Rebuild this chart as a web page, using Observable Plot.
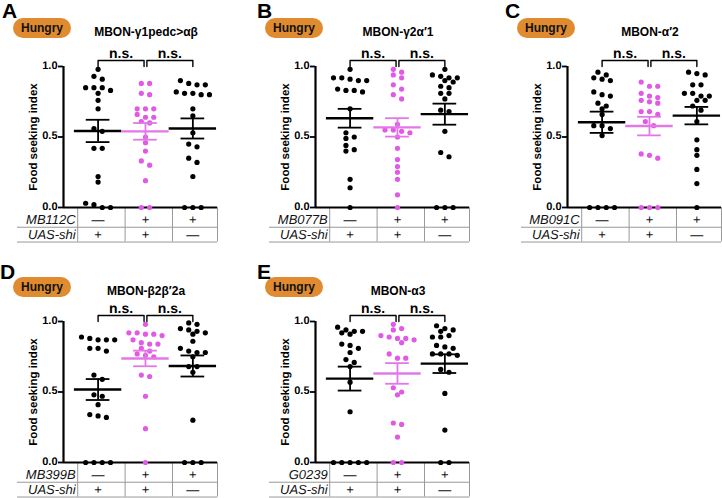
<!DOCTYPE html>
<html><head><meta charset="utf-8">
<script src="https://cdn.jsdelivr.net/npm/d3@7"></script>
<script src="https://cdn.jsdelivr.net/npm/@observablehq/plot@0.6"></script>
<style>
body{margin:0;background:#fff;}
#root{position:relative;width:722px;height:498px;overflow:hidden;font-family:"Liberation Sans",Arial,Helvetica,sans-serif;color:#000;}
.panel{position:absolute;width:252px;height:248px;}
.panel svg{position:absolute;left:0;top:0;text-rendering:geometricPrecision;}
.letter{position:absolute;font-weight:bold;font-size:21px;line-height:1;}
.pill{position:absolute;left:13px;width:58px;height:20px;border-radius:10px;background:#e08b30;font-weight:bold;font-size:12px;line-height:20px;text-align:center;color:#111;}
.title{position:absolute;left:146px;transform:translateX(-50%);font-weight:bold;font-size:12px;line-height:1;white-space:nowrap;}
</style></head><body><div id="root"></div>
<script>
// ---------- data ----------
const panelLetters = ["A", "B", "C", "D", "E"];
const panelTitles = ["MBON-γ1pedc>αβ", "MBON-γ2α′1", "MBON-α′2", "MBON-β2β′2a", "MBON-α3"];
const driverLines = ["MB112C", "MB077B", "MB091C", "MB399B", "G0239"];
const effectorLabel = "UAS-shi";
const driverSigns = ["—", "+", "+"];
const effectorSigns = ["+", "+", "—"];
const stateLabel = "Hungry";
const yLabel = "Food seeking index";
const yTicks = [0, 0.5, 1.0];
const comparisons = [[0, 1], [1, 2]];
const comparisonLabels = ["n.s.", "n.s."];

const A_driverOnly = [0.98, 0.93, 0.91, 0.85, 0.85, 0.85, 0.83, 0.81, 0.76, 0.70, 0.56, 0.54, 0.42, 0.42, 0.22, 0.18, 0.02, 0, 0, 0.03];
const A_experimental = [0.88, 0.88, 0.81, 0.80, 0.70, 0.70, 0.70, 0.66, 0.64, 0.64, 0.61, 0.60, 0.50, 0.46, 0.40, 0.33, 0.30, 0.19, 0, 0];
const A_effectorOnly = [0.90, 0.88, 0.87, 0.87, 0.82, 0.81, 0.81, 0.80, 0.80, 0.70, 0.65, 0.53, 0.45, 0.43, 0.35, 0.32, 0.22, 0, 0, 0];

const B_driverOnly = [0.98, 0.92, 0.92, 0.91, 0.90, 0.90, 0.84, 0.83, 0.83, 0.82, 0.70, 0.53, 0.50, 0.49, 0.44, 0.41, 0.40, 0.20, 0.14, 0];
const B_experimental = [0.98, 0.96, 0.94, 0.92, 0.87, 0.84, 0.80, 0.77, 0.59, 0.55, 0.55, 0.54, 0.53, 0.50, 0.42, 0.34, 0.29, 0.25, 0.20, 0.09, 0];
const B_effectorOnly = [0.98, 0.94, 0.93, 0.92, 0.92, 0.90, 0.89, 0.86, 0.85, 0.81, 0.81, 0.77, 0.69, 0.68, 0.54, 0.39, 0.36, 0, 0, 0];

const C_driverOnly = [0.96, 0.94, 0.92, 0.91, 0.90, 0.82, 0.80, 0.79, 0.74, 0.72, 0.70, 0.66, 0.58, 0.58, 0.56, 0.51, 0, 0, 0, 0];
const C_experimental = [0.89, 0.86, 0.86, 0.81, 0.79, 0.78, 0.76, 0.75, 0.74, 0.68, 0.68, 0.66, 0.61, 0.58, 0.38, 0.37, 0.35, 0, 0, 0];
const C_effectorOnly = [0.96, 0.95, 0.94, 0.87, 0.87, 0.81, 0.81, 0.79, 0.79, 0.76, 0.76, 0.72, 0.69, 0.61, 0.48, 0.41, 0.37, 0.27, 0.17, 0];

const D_driverOnly = [0.89, 0.88, 0.87, 0.87, 0.87, 0.81, 0.81, 0.79, 0.62, 0.59, 0.48, 0.47, 0.41, 0.34, 0.33, 0.32, 0, 0, 0, 0];
const D_experimental = [0.98, 0.92, 0.92, 0.91, 0.91, 0.90, 0.87, 0.85, 0.84, 0.84, 0.81, 0.79, 0.77, 0.76, 0.75, 0.62, 0.61, 0.47, 0.24, 0];
const D_effectorOnly = [0.99, 0.98, 0.95, 0.94, 0.93, 0.92, 0.91, 0.86, 0.81, 0.79, 0.78, 0.78, 0.75, 0.68, 0.68, 0.64, 0.30, 0, 0, 0];

const E_driverOnly = [0.96, 0.94, 0.93, 0.93, 0.92, 0.91, 0.84, 0.83, 0.81, 0.78, 0.73, 0.71, 0.68, 0.57, 0.36, 0, 0, 0, 0, 0];
const E_experimental = [0.98, 0.95, 0.94, 0.90, 0.89, 0.88, 0.88, 0.87, 0.85, 0.77, 0.74, 0.74, 0.53, 0.50, 0.48, 0.28, 0.27, 0.18, 0, 0];
const E_effectorOnly = [0.97, 0.95, 0.94, 0.93, 0.90, 0.89, 0.89, 0.83, 0.82, 0.81, 0.77, 0.77, 0.77, 0.76, 0.66, 0.64, 0.49, 0.23, 0, 0];

const panelGroups = [
  [A_driverOnly, A_experimental, A_effectorOnly],
  [B_driverOnly, B_experimental, B_effectorOnly],
  [C_driverOnly, C_experimental, C_effectorOnly],
  [D_driverOnly, D_experimental, D_effectorOnly],
  [E_driverOnly, E_experimental, E_effectorOnly]
];

// ---------- layout / style ----------
const panelPos = [[0, 0], [252, 0], [504, 0], [0, 255], [252, 255]];
const letterX = [2, 5, 1, 0, 5];
const headerDy = [0, 0, 0, 4, 4];
const dotColors = ["#000000", "#e05ae6", "#000000"];
const lineColors = ["#000000", "#e277e8", "#000000"];
const W = 252, H = 248, mL = 63, mR = 35, mT = 66, mB = 41;
const xDomain = [-0.73, 2.52];
const kx = (W - mL - mR) / (xDomain[1] - xDomain[0]);
const ky = (H - mT - mB);
const R = 2.6;
const FONT = "'Liberation Sans', Arial, Helvetica, sans-serif";

// simple symmetric swarm layout (pixel units)
function swarm(values) {
  const step = 8.3, thr = 5.5;
  const sorted = values.slice().sort((a, b) => b - a);
  const placed = [];
  let cluster = [];
  const flush = () => {
    const n = cluster.length;
    const base = cluster.map((v, j) => ({v, off: (j - (n - 1) / 2) * step}));
    const shifts = [0, step / 2, -step / 2, step, -step];
    let best = 0;
    for (const s of shifts) {
      const ok = base.every(p => placed.every(q => Math.hypot(p.off + s - q.off, (p.v - q.v) * ky) >= 2 * R - 0.2));
      if (ok) { best = s; break; }
    }
    base.forEach(p => placed.push({v: p.v, off: p.off + best}));
    cluster = [];
  };
  for (const v of sorted) {
    if (cluster.length && (cluster[0] - v) * ky >= thr) flush();
    cluster.push(v);
  }
  flush();
  return placed;
}

function panelPlot(groups, driver) {
  const pts = [];
  groups.forEach((vals, g) => swarm(vals).forEach(p => pts.push({g, y: p.v, x: g + p.off / kx})));
  const stats = groups.map((vals, g) => {
    const m = d3.mean(vals), s = d3.deviation(vals) / Math.sqrt(vals.length);
    return {g, mean: m, lo: m - s, hi: m + s};
  });
  const gap = 0.03, bTop = 1.043, bBot = 1.0, labelY = 1.092;
  const brackets = [];
  const bracketLabels = [];
  comparisons.forEach(([a, b], k) => {
    const x1 = a + (k > 0 ? gap : 0), x2 = b - (k < comparisons.length - 1 ? gap : 0);
    brackets.push({id: k, x: x1, y: bBot}, {id: k, x: x1, y: bTop}, {id: k, x: x2, y: bTop}, {id: k, x: x2, y: bBot});
    bracketLabels.push({x: (x1 + x2) / 2, y: labelY, text: comparisonLabels[k]});
  });
  const rowY = [-0.087, -0.193];
  const rowLines = [-0.14, -0.245];
  const tableLeft = xDomain[0] - (mL - 17) / kx;
  const edges = [0, 1, 2].map(i => i - 0.5 + 0.07).concat([xDomain[1]]);
  const cells = [];
  driverSigns.forEach((s, g) => cells.push({g, y: rowY[0], text: s}));
  effectorSigns.forEach((s, g) => cells.push({g, y: rowY[1], text: s}));
  const rowLabels = [{y: rowY[0], text: driver}, {y: rowY[1], text: effectorLabel}];
  const x0 = xDomain[0];

  return Plot.plot({
    width: W, height: H, marginLeft: mL, marginRight: mR, marginTop: mT, marginBottom: mB,
    x: {domain: xDomain, axis: null},
    y: {domain: [0, 1], axis: null},
    style: {fontFamily: FONT, background: "transparent", overflow: "visible", color: "#000"},
    marks: [
      // table
      Plot.ruleY(rowLines, {y: d => d, x1: () => tableLeft, x2: () => xDomain[1], stroke: "#999", strokeWidth: 1}),
      Plot.ruleX(edges, {x: d => d, y1: () => 0, y2: () => rowLines[1], stroke: "#999", strokeWidth: 1}),
      Plot.text(rowLabels, {x: () => edges[0], y: "y", text: "text", textAnchor: "end", dx: -2, fontStyle: "italic", fontSize: 13, fill: "#111"}),
      Plot.text(cells, {x: "g", y: "y", text: "text", fontSize: 13, fill: "#111"}),
      // axes
      Plot.ruleY([0], {y: d => d, x1: () => x0, x2: () => xDomain[1], stroke: "#000", strokeWidth: 2.2}),
      Plot.ruleX([x0], {x: d => d, y1: () => 0, y2: () => 1, stroke: "#000", strokeWidth: 2.2}),
      Plot.ruleY(yTicks, {y: d => d, x1: () => x0 - 5 / kx, x2: () => x0, stroke: "#000", strokeWidth: 1.8}),
      Plot.text(yTicks, {x: () => x0, y: d => d, text: d => d.toFixed(1), textAnchor: "end", dx: -6, dy: -1.5, fontWeight: "bold", fontSize: 11, fill: "#000"}),
      Plot.text([yLabel], {x: () => x0, y: () => 0.5, text: d => d, rotate: -90, dx: -30, fontWeight: "bold", fontSize: 11.5, fill: "#000"}),
      // dots
      Plot.dot(pts, {x: "x", y: "y", r: R, fill: d => dotColors[d.g], stroke: "none"}),
      // mean ± SEM
      Plot.ruleY(stats, {y: "mean", x1: d => d.g - 0.5, x2: d => d.g + 0.5, stroke: d => lineColors[d.g], strokeWidth: 2.4}),
      Plot.ruleX(stats, {x: "g", y1: "lo", y2: "hi", stroke: d => lineColors[d.g], strokeWidth: 1.8}),
      Plot.ruleY(stats, {y: "lo", x1: d => d.g - 0.25, x2: d => d.g + 0.25, stroke: d => lineColors[d.g], strokeWidth: 1.8}),
      Plot.ruleY(stats, {y: "hi", x1: d => d.g - 0.25, x2: d => d.g + 0.25, stroke: d => lineColors[d.g], strokeWidth: 1.8}),
      // significance brackets
      Plot.line(brackets, {x: "x", y: "y", z: "id", stroke: "#000", strokeWidth: 1.4, curve: "linear"}),
      Plot.text(bracketLabels, {x: "x", y: "y", text: "text", fontWeight: "bold", fontSize: 14, fill: "#000"})
    ]
  });
}

const root = document.getElementById("root");
panelGroups.forEach((groups, i) => {
  const div = document.createElement("div");
  div.className = "panel";
  div.style.left = panelPos[i][0] + "px";
  div.style.top = panelPos[i][1] + "px";
  div.appendChild(panelPlot(groups, driverLines[i]));
  const letter = document.createElement("div");
  letter.className = "letter";
  letter.textContent = panelLetters[i];
  letter.style.left = letterX[i] + "px";
  letter.style.top = (0 + headerDy[i] * 1.5) + "px";
  div.appendChild(letter);
  const pill = document.createElement("div");
  pill.className = "pill";
  pill.textContent = stateLabel;
  pill.style.top = (18 + headerDy[i]) + "px";
  div.appendChild(pill);
  const title = document.createElement("div");
  title.className = "title";
  title.textContent = panelTitles[i];
  title.style.top = (26 + headerDy[i]) + "px";
  div.appendChild(title);
  root.appendChild(div);
});
</script></body></html>
